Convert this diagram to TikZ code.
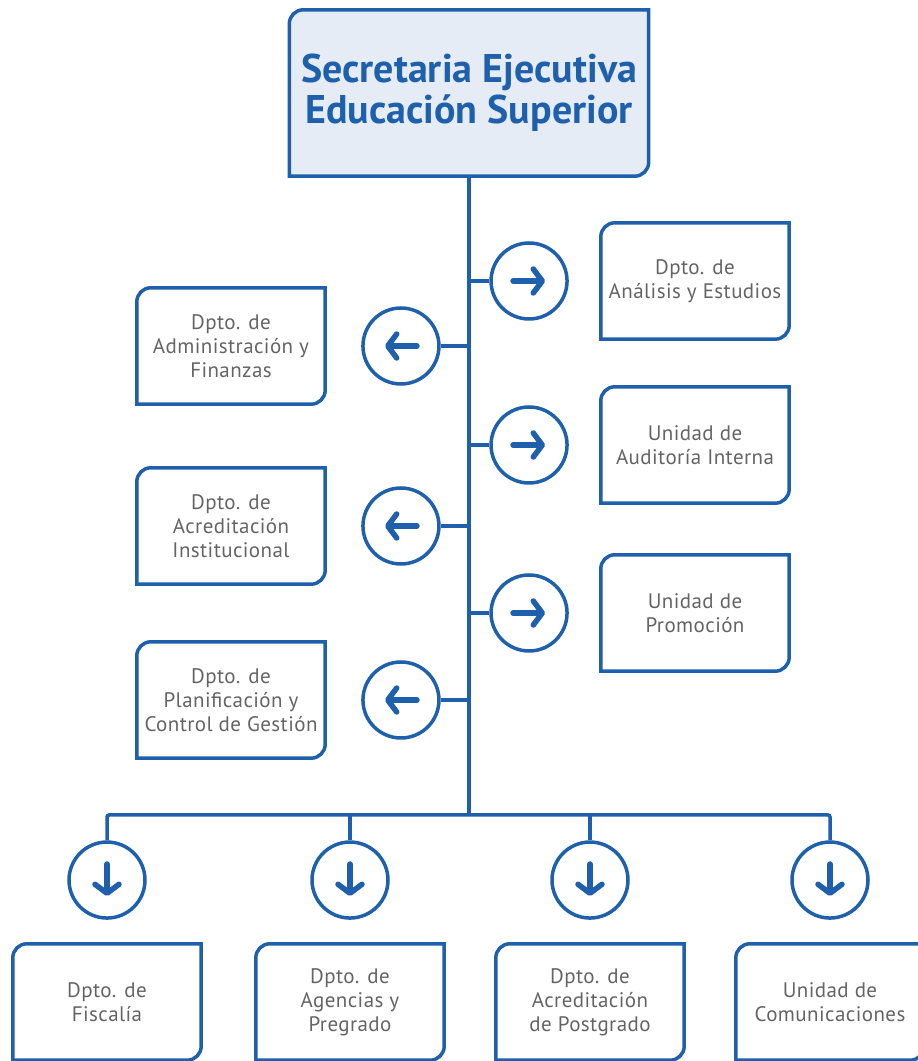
\documentclass[tikz,border=0pt]{standalone}
\usepackage{fontspec}
\setmainfont{PT Sans}
\newfontfamily\titlefont{PT Sans}
\newfontfamily\unitfont[LetterSpace=2]{PT Sans}
\usetikzlibrary{positioning,arrows.meta,backgrounds}

\definecolor{orgblue}{RGB}{30,96,172}
\definecolor{orgfill}{RGB}{229,236,245}
\definecolor{txtgray}{RGB}{100,100,100}

\tikzset{
  head/.style={minimum width=359pt, minimum height=166pt, inner sep=0pt, align=center,
    text=orgblue, font=\titlefont\bfseries\fontsize{40}{41}\selectfont},
  unit/.style={minimum width=188pt, minimum height=116pt, inner sep=0pt, align=center,
    text=txtgray, font=\unitfont\fontsize{21}{24}\selectfont},
  knob/.style={circle, draw=orgblue, line width=3.5pt, minimum size=76pt, inner sep=0pt, fill=white},
  frame/.style={draw=orgblue, line width=3.5pt, line join=miter},
  link/.style={draw=orgblue, line width=3.5pt, rounded corners=2pt},
  tip/.style={draw=orgblue, line width=5.5pt, line cap=round,
    -{Straight Barb[length=9pt, width=24pt, line cap=round, line join=round]}},
}

% box with rounded top left and bottom right corners
\newcommand\cornerframe[2][]{%
  \draw[frame,#1] (#2.south west) -- ([yshift=-14pt]#2.north west)
    arc[start angle=180, end angle=90, radius=14pt] -- (#2.north east)
    -- ([yshift=14pt]#2.south east)
    arc[start angle=0, end angle=-90, radius=14pt] -- cycle;}

\begin{document}
\begin{tikzpicture}[x=1pt, y=1pt]
\useasboundingbox (0,0) rectangle (918,1061);

\node[head] (sec) at (469,968) {Secretaria Ejecutiva\\Educación Superior};

% right side
\node[unit] (ana) at (695,780) {Dpto. de\\Análisis y Estudios};
\node[unit] (aud) at (695,616) {Unidad de\\Auditoría Interna};
\node[unit] (pro) at (695,448) {Unidad de\\Promoción};
\node[knob, left=32pt of ana] (kana) {};
\node[knob, left=32pt of aud] (kaud) {};
\node[knob, left=32pt of pro] (kpro) {};

% left side
\node[unit] (adm) at (231,715) {Dpto. de\\Administración y\\Finanzas};
\node[unit] (acr) at (231,535) {Dpto. de\\Acreditación\\Institucional};
\node[unit] (pla) at (231,361) {Dpto. de\\Planificación y\\Control de Gestión};
\node[knob, right=36pt of adm] (kadm) {};
\node[knob, right=36pt of acr] (kacr) {};
\node[knob, right=36pt of pla] (kpla) {};

% bottom row
\node[unit] (fis) at (107,59) {Dpto. de\\Fiscalía};
\node[unit] (age) at (350,59) {Dpto. de\\Agencias y\\Pregrado};
\node[unit] (pos) at (590,59) {Dpto. de\\Acreditación\\de Postgrado};
\node[unit] (com) at (830,59) {Unidad de\\Comunicaciones};
\node[knob, above=24pt of fis] (kfis) {};
\node[knob, above=24pt of age] (kage) {};
\node[knob, above=24pt of pos] (kpos) {};
\node[knob, above=24pt of com] (kcom) {};

\coordinate (bus) at (469,246);

\begin{scope}[on background layer]
  \cornerframe[fill=orgfill]{sec}
  \foreach \n in {ana,aud,pro,adm,acr,pla,fis,age,pos,com}
    \cornerframe{\n};
  \draw[link] (sec.south) -- (bus);
  \draw[link] (kfis.north) |- (bus) -| (kcom.north);
  \foreach \k in {kage,kpos}
    \draw[link] (\k.north) -- (\k.north |- bus);
  \foreach \k in {kana,kaud,kpro,kadm,kacr,kpla}
    \draw[link] (\k) -- (\k -| bus);
\end{scope}

% arrows inside the circles
\foreach \k in {kana,kaud,kpro}
  \draw[tip] ([xshift=-16pt]\k.center) -- ([xshift=16pt]\k.center);
\foreach \k in {kadm,kacr,kpla}
  \draw[tip] ([xshift=16pt]\k.center) -- ([xshift=-16pt]\k.center);
\foreach \k in {kfis,kage,kpos,kcom}
  \draw[tip] ([yshift=16pt]\k.center) -- ([yshift=-16pt]\k.center);
\end{tikzpicture}
\end{document}
